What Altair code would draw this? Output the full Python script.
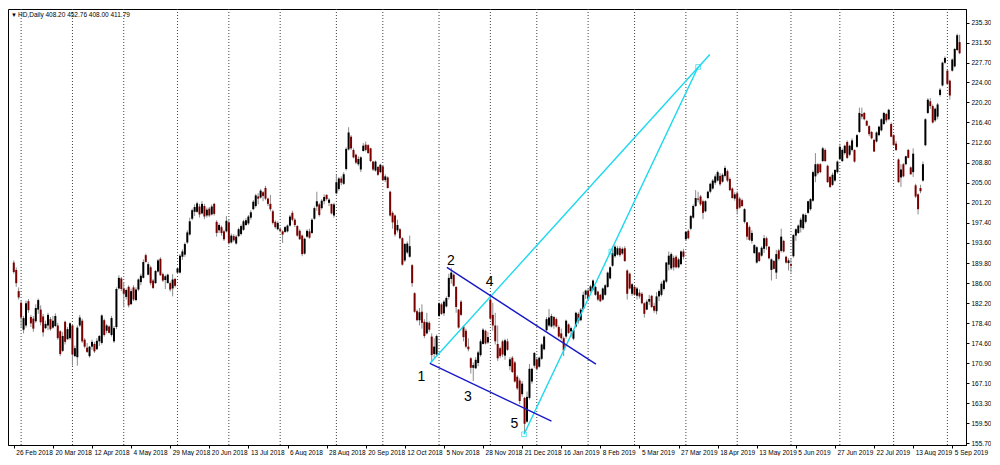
import altair as alt
import pandas as pd

# ---- daily candles, bar index 0 = 26 Feb 2018 ----
OPEN = [
    189.9, 188.5, 184.5, 182.3, 177.2, 178.0, 182.6, 179.6, 179.3, 178.8,
    181.0, 181.0, 179.7, 177.5, 178.0, 179.2, 177.6, 177.9, 178.0, 176.9,
    173.2, 178.7, 175.4, 175.6, 178.0, 172.2, 172.0, 178.0, 178.9, 175.3,
    173.8, 172.2, 174.0, 174.5, 173.5, 175.0, 174.7, 179.0, 177.0, 177.8,
    176.2, 175.0, 177.7, 185.0, 186.9, 185.0, 183.4, 185.3, 182.0, 185.2,
    182.8, 184.8, 186.2, 187.0, 191.3, 187.6, 189.0, 186.5, 186.0, 188.2,
    190.6, 187.7, 186.6, 186.0, 186.0, 185.0, 186.8,
    188.0, 188.0, 191.0, 191.4, 193.7, 195.2, 198.2, 199.5, 199.5, 200.5,
    199.2, 200.6, 198.8, 200.1, 199.0, 201.0, 197.6, 196.0, 196.6, 195.8,
    195.8, 197.5, 193.7, 194.9, 193.5, 194.9, 195.3, 196.1, 197.0, 197.3,
    198.4, 200.0, 200.6, 202.4, 202.2, 203.2, 204.0, 202.0, 201.0, 199.6,
    197.6, 196.2, 196.2, 195.8, 195.7, 195.8, 196.9, 199.3, 198.0, 196.8,
    195.9, 195.0, 191.6, 194.8, 195.8, 195.5, 198.2, 200.5, 200.9, 200.2,
    201.5, 202.7, 201.2, 201.0, 198.8,
    203.0, 203.8, 205.8, 204.8, 207.6, 211.3, 213.7, 211.2, 210.3, 208.5,
    207.5, 211.0, 212.2, 212.1, 211.5, 209.0, 207.3, 208.0, 207.0, 208.1,
    205.5, 206.0, 203.3, 199.3, 198.8, 196.0, 196.2, 194.5, 190.3, 191.8,
    191.0, 189.4, 184.1, 180.7, 179.0, 180.6, 178.7, 176.5, 178.5, 175.9,
    172.6, 172.5, 179.8, 182.0, 180.3, 181.6, 183.4, 186.8, 187.6, 185.3,
    181.0, 182.5, 177.8, 177.0, 174.0, 171.8, 170.0, 169.9, 170.9, 172.4,
    174.5, 177.0, 174.8, 182.9, 180.0, 178.0, 174.5,
    173.7, 175.0, 172.3, 175.0, 170.3, 171.9, 171.0, 168.3, 167.6, 165.0,
    164.3, 159.8, 164.3, 167.4, 170.4, 171.6, 170.2, 171.7, 173.5, 177.1,
    178.0, 177.8, 179.6, 179.2, 177.7, 176.5, 175.6, 175.9, 178.2, 176.9,
    175.5, 177.8, 180.2, 179.0, 181.1, 183.8, 184.6, 184.5, 184.8, 183.8,
    184.4, 183.8, 182.9, 183.8, 185.3, 186.9, 189.3, 191.1, 191.4, 192.6,
    191.6, 192.6, 188.4, 187.8, 184.0, 185.3, 183.6, 184.2, 184.0, 182.2,
    181.0, 182.5, 183.6, 181.7, 180.7,
    183.5, 183.8, 184.9, 186.3, 189.5, 188.8, 190.8, 191.0, 189.0, 189.6,
    192.0, 194.3, 195.9, 196.3, 198.4, 200.6, 202.0, 202.4, 201.5, 199.6,
    202.1, 203.3, 203.9, 205.0, 205.4, 206.3, 205.2, 206.3, 207.2, 205.7,
    203.9, 202.0, 203.0, 202.0, 201.7, 197.6, 197.5, 196.6, 194.0, 191.7,
    189.9, 191.8, 191.2, 192.5, 194.5, 192.9, 188.5, 190.2, 188.0, 192.2,
    192.1, 194.0, 191.0, 189.8, 189.6, 191.1, 195.0, 195.5, 196.5, 196.4,
    197.6, 199.3, 200.0, 201.6, 206.2,
    208.5, 208.5, 209.1, 211.2, 208.2, 206.1, 204.6, 205.4, 207.0, 209.5,
    209.1, 210.6, 212.7, 210.3, 211.2, 211.2, 211.8, 214.6, 218.0, 218.2,
    216.7, 215.7, 214.6, 213.1, 212.8, 214.0, 214.9, 216.1, 218.0, 217.0,
    216.1, 214.0, 212.4, 209.4, 206.0, 208.5, 208.5, 211.2, 207.9, 207.0,
    204.5, 202.8, 204.0, 205.4, 212.1, 218.2, 220.4, 219.5, 216.8, 217.5,
    221.6, 223.4, 227.7, 226.2, 224.3, 226.2, 227.0, 230.1, 231.6,
]
HIGH = [
    190.3, 189.0, 185.2, 182.6, 179.8, 182.7, 183.0, 180.0, 179.8, 182.0,
    183.1, 181.8, 180.2, 178.9, 180.4, 179.6, 179.8, 180.3, 178.5, 177.1,
    176.8, 178.9, 177.7, 178.6, 178.2, 174.2, 178.0, 180.0, 179.3, 175.6,
    174.7, 174.1, 175.3, 174.9, 175.6, 176.2, 180.1, 179.3, 178.3, 178.0,
    179.8, 177.9, 185.2, 187.5, 187.2, 186.2, 185.0, 185.6, 185.0, 185.6,
    185.2, 186.9, 187.8, 190.5, 191.6, 190.0, 189.3, 186.8, 188.5, 190.6,
    190.9, 188.0, 187.6, 187.8, 186.3, 187.7, 187.0,
    189.0, 191.5, 192.4, 193.7, 196.0, 198.4, 200.1, 200.9, 201.4, 201.0,
    201.5, 201.0, 200.3, 200.4, 200.9, 201.2, 197.9, 197.3, 196.9, 196.1,
    198.7, 198.1, 195.4, 195.3, 195.1, 196.5, 197.1, 198.0, 198.3, 198.9,
    199.8, 201.7, 202.9, 203.0, 203.8, 203.4, 204.4, 202.2, 202.7, 199.9,
    197.9, 197.7, 196.6, 196.0, 196.8, 197.1, 198.9, 199.7, 198.3, 197.0,
    196.2, 195.2, 194.6, 196.2, 196.3, 198.3, 200.5, 203.3, 201.2, 201.9,
    202.8, 202.8, 202.1, 201.0, 201.2,
    206.5, 206.1, 206.2, 207.0, 211.7, 215.5, 214.0, 211.5, 210.5, 210.0,
    210.0, 212.5, 212.8, 212.3, 211.6, 209.1, 209.2, 208.1, 208.6, 208.4,
    206.6, 206.2, 203.5, 199.6, 199.0, 198.0, 196.4, 194.7, 193.6, 193.9,
    195.0, 189.6, 184.3, 181.0, 181.3, 182.0, 179.2, 180.4, 178.8, 176.5,
    175.6, 176.3, 182.4, 182.3, 182.8, 183.5, 187.8, 188.9, 187.8, 185.4,
    181.1, 182.8, 178.0, 177.4, 175.6, 172.0, 171.0, 172.0, 173.2, 175.4,
    177.5, 177.2, 176.8, 183.7, 182.3, 180.4, 178.0,
    174.0, 175.3, 175.5, 175.5, 172.0, 172.2, 171.3, 168.6, 168.0, 167.5,
    164.5, 165.5, 170.7, 170.0, 173.0, 172.0, 172.1, 174.6, 176.1, 179.6,
    181.1, 180.2, 179.8, 179.5, 178.0, 177.4, 175.9, 179.1, 178.4, 177.8,
    177.3, 180.6, 180.5, 181.3, 184.4, 184.8, 184.9, 185.7, 186.7, 185.5,
    184.6, 184.0, 185.2, 185.8, 188.2, 189.2, 193.0, 193.2, 193.0, 193.0,
    192.8, 193.0, 188.6, 188.0, 186.0, 185.5, 185.3, 184.8, 184.3, 182.4,
    182.9, 183.8, 183.8, 182.3, 184.3,
    184.8, 186.3, 186.7, 190.0, 192.0, 191.8, 191.2, 191.3, 190.8, 192.2,
    192.5, 195.9, 196.2, 198.9, 200.9, 203.6, 203.3, 202.7, 201.8, 201.7,
    203.5, 205.0, 205.7, 206.6, 207.3, 206.8, 206.8, 208.2, 207.5, 206.0,
    204.1, 203.2, 203.4, 202.3, 202.0, 200.2, 197.6, 196.9, 196.0, 193.4,
    193.0, 191.9, 193.0, 195.1, 194.8, 193.0, 190.7, 190.4, 192.3, 192.5,
    196.3, 194.2, 191.2, 190.7, 190.6, 195.3, 196.4, 197.1, 198.4, 199.2,
    199.2, 201.6, 202.1, 207.3, 210.6,
    208.7, 208.7, 211.8, 211.5, 208.4, 206.3, 206.9, 207.6, 209.2, 212.4,
    211.5, 212.2, 213.0, 212.2, 213.4, 211.3, 214.2, 219.2, 219.2, 218.4,
    216.9, 215.9, 214.8, 213.3, 214.7, 215.8, 217.2, 218.4, 218.2, 219.0,
    216.4, 214.2, 212.9, 209.6, 208.5, 208.7, 210.1, 211.4, 208.1, 211.5,
    204.8, 203.0, 204.6, 209.0, 217.2, 221.0, 221.0, 219.8, 219.2, 220.1,
    222.9, 227.9, 228.9, 226.4, 224.5, 228.5, 230.5, 233.2, 233.0,
]
LOW = [
    187.8, 185.3, 182.9, 177.7, 176.5, 177.6, 180.4, 177.7, 176.8, 178.5,
    180.2, 178.0, 175.9, 177.3, 177.1, 177.0, 177.4, 177.7, 175.3, 172.2,
    173.0, 174.4, 175.3, 175.3, 170.4, 172.0, 170.4, 177.7, 174.7, 173.7,
    172.8, 171.9, 173.4, 172.8, 173.4, 174.1, 174.4, 175.9, 176.5, 176.5,
    175.9, 174.7, 177.3, 184.8, 184.5, 181.4, 182.9, 181.4, 182.0, 182.6,
    182.6, 184.5, 185.6, 186.9, 189.9, 187.5, 185.6, 184.9, 185.9, 188.0,
    187.4, 186.2, 184.9, 186.0, 184.4, 183.5, 185.2,
    187.8, 187.8, 190.4, 191.0, 193.4, 195.0, 197.9, 198.7, 199.3, 198.4,
    199.0, 198.1, 198.4, 198.5, 198.8, 198.8, 194.8, 195.5, 195.0, 194.0,
    195.6, 193.3, 193.5, 193.8, 193.3, 194.7, 195.0, 195.9, 196.8, 197.0,
    198.0, 199.8, 200.3, 200.9, 202.0, 201.5, 201.7, 200.6, 199.6, 197.1,
    196.3, 196.0, 195.6, 193.6, 195.5, 195.6, 196.7, 197.7, 196.6, 194.8,
    194.2, 191.1, 191.4, 194.6, 194.4, 195.3, 198.0, 199.7, 198.6, 199.9,
    200.9, 201.6, 200.6, 199.0, 198.4,
    202.8, 203.5, 204.5, 204.6, 207.3, 211.1, 211.2, 209.6, 208.5, 208.2,
    207.0, 210.9, 210.9, 210.5, 208.9, 207.2, 207.1, 206.3, 206.8, 205.3,
    205.1, 203.9, 198.6, 196.3, 194.8, 195.6, 194.3, 189.3, 190.0, 191.5,
    190.8, 185.3, 180.4, 178.8, 178.0, 177.4, 175.6, 176.3, 176.8, 171.2,
    171.9, 172.3, 179.6, 180.0, 179.8, 181.4, 182.9, 185.9, 185.3, 180.4,
    177.4, 179.8, 175.0, 173.7, 173.1, 168.9, 167.5, 169.8, 170.3, 172.1,
    174.4, 174.4, 174.5, 179.0, 177.0, 174.4, 171.3,
    171.8, 172.0, 171.5, 173.2, 169.5, 169.0, 167.2, 165.8, 163.1, 164.5,
    157.6, 159.6, 164.0, 167.0, 170.0, 169.5, 170.0, 171.5, 173.3, 176.9,
    177.7, 177.6, 177.4, 177.6, 175.7, 175.3, 172.2, 175.5, 176.4, 175.8,
    175.2, 177.6, 178.3, 178.8, 180.9, 183.0, 182.8, 184.2, 184.6, 183.6,
    182.6, 182.4, 182.7, 183.6, 185.1, 186.7, 189.1, 190.8, 191.2, 191.0,
    191.3, 190.0, 182.9, 184.8, 183.6, 183.6, 182.9, 183.1, 182.0, 179.5,
    180.9, 181.9, 181.3, 180.4, 180.1,
    182.6, 183.5, 184.6, 186.0, 188.4, 188.5, 188.4, 188.8, 188.8, 189.4,
    190.5, 194.0, 194.3, 196.0, 198.2, 200.4, 201.3, 200.6, 198.1, 199.4,
    201.9, 203.0, 203.7, 204.6, 205.2, 204.4, 205.0, 206.0, 205.1, 203.4,
    202.0, 201.6, 199.0, 200.1, 200.4, 197.3, 194.2, 194.0, 193.5, 191.5,
    189.7, 190.0, 191.0, 191.7, 192.3, 190.5, 186.5, 188.6, 186.8, 190.3,
    191.8, 191.8, 189.7, 188.4, 188.0, 190.8, 194.0, 195.3, 195.6, 196.1,
    197.3, 199.1, 199.7, 201.4, 205.1,
    206.5, 206.8, 208.9, 208.9, 205.0, 204.0, 204.4, 205.2, 206.7, 209.3,
    208.9, 210.3, 209.5, 210.0, 210.9, 208.8, 211.6, 214.4, 217.0, 216.8,
    215.7, 213.8, 213.2, 210.8, 212.6, 213.8, 214.7, 215.9, 216.4, 216.8,
    213.6, 212.0, 211.0, 205.0, 204.2, 206.0, 208.3, 209.6, 206.5, 206.1,
    202.1, 199.0, 203.0, 205.2, 211.9, 218.0, 219.0, 216.2, 216.5, 217.0,
    221.3, 223.2, 227.5, 223.5, 220.7, 226.0, 226.8, 229.9, 229.3,
]
CLOSE = [
    188.1, 186.0, 183.3, 179.5, 179.4, 182.2, 180.9, 178.4, 177.4, 181.3,
    182.8, 178.6, 176.7, 178.3, 180.0, 177.3, 178.9, 179.8, 175.6, 172.6,
    176.0, 174.9, 177.3, 178.4, 172.5, 173.7, 177.6, 179.5, 175.0, 174.0,
    173.0, 174.0, 174.9, 173.1, 175.1, 176.0, 179.9, 176.2, 178.0, 176.6,
    179.4, 177.5, 184.9, 187.0, 184.9, 184.0, 184.7, 181.8, 184.5, 182.9,
    184.8, 186.7, 187.4, 190.0, 190.0, 189.6, 186.0, 185.1, 188.3, 190.3,
    187.5, 186.5, 187.3, 187.6, 184.8, 186.7, 185.5,
    188.8, 191.2, 192.0, 193.4, 195.6, 197.7, 199.8, 200.4, 201.1, 199.0,
    201.0, 198.6, 199.9, 198.8, 200.5, 199.1, 195.5, 197.0, 195.5, 194.3,
    197.8, 193.6, 195.0, 194.1, 194.8, 196.2, 196.8, 197.7, 197.9, 198.6,
    199.4, 201.4, 202.6, 202.0, 203.5, 202.5, 202.0, 201.0, 200.0, 197.4,
    196.6, 197.4, 195.9, 195.2, 196.6, 196.9, 198.6, 198.0, 197.0, 195.0,
    194.3, 191.5, 194.4, 195.9, 194.6, 198.0, 200.2, 201.5, 198.9, 201.6,
    202.3, 201.9, 201.8, 199.2, 200.9,
    205.1, 205.8, 205.0, 206.6, 211.4, 214.5, 211.5, 209.8, 208.8, 209.5,
    209.8, 212.0, 211.2, 210.6, 209.1, 207.5, 209.0, 206.5, 208.4, 205.5,
    206.2, 204.0, 198.8, 197.5, 195.2, 197.0, 194.5, 189.5, 193.4, 193.5,
    193.0, 186.0, 180.6, 179.0, 180.5, 178.5, 176.0, 178.6, 177.2, 172.4,
    174.0, 176.0, 182.2, 180.2, 182.5, 183.2, 187.0, 188.0, 185.5, 181.5,
    177.6, 180.0, 175.8, 174.0, 173.5, 170.0, 170.5, 171.5, 172.9, 175.0,
    177.2, 174.6, 175.8, 179.3, 178.0, 175.0, 171.8,
    172.2, 172.5, 175.2, 173.4, 171.6, 169.2, 167.4, 166.1, 163.7, 167.0,
    159.4, 164.5, 169.8, 169.8, 172.8, 169.8, 171.9, 174.4, 175.9, 179.2,
    179.5, 179.8, 178.0, 177.8, 175.9, 175.6, 173.3, 178.9, 176.6, 177.5,
    177.1, 180.4, 178.8, 181.0, 183.8, 184.6, 183.0, 185.4, 186.5, 185.3,
    182.9, 182.6, 185.0, 185.6, 188.0, 189.0, 191.7, 192.9, 192.6, 191.3,
    192.5, 190.2, 184.0, 185.0, 185.8, 183.8, 185.0, 183.5, 182.2, 180.2,
    182.5, 183.0, 181.5, 180.8, 183.5,
    184.5, 185.9, 186.5, 189.9, 191.2, 191.5, 189.0, 189.0, 190.5, 192.0,
    191.0, 195.7, 194.5, 198.7, 200.6, 202.1, 201.8, 200.9, 199.3, 201.5,
    203.3, 204.8, 205.4, 206.2, 207.0, 204.7, 206.5, 207.8, 205.4, 203.6,
    202.1, 202.8, 200.0, 200.3, 200.6, 200.0, 194.8, 194.2, 195.5, 193.2,
    192.8, 190.2, 192.7, 194.5, 193.0, 190.7, 190.5, 188.7, 191.5, 190.6,
    194.8, 192.0, 189.9, 190.3, 189.3, 195.1, 196.2, 196.9, 198.0, 199.0,
    198.9, 201.5, 201.9, 207.0, 208.5,
    206.8, 207.0, 211.5, 209.1, 205.1, 204.2, 206.5, 207.4, 209.0, 211.8,
    211.2, 212.0, 209.7, 212.0, 213.0, 209.0, 214.0, 218.2, 217.5, 217.0,
    215.8, 214.2, 213.4, 210.9, 214.5, 215.6, 217.0, 218.2, 216.8, 218.8,
    213.7, 212.1, 211.2, 205.1, 207.5, 206.2, 210.0, 209.7, 206.6, 210.5,
    202.4, 200.0, 203.4, 208.5, 217.0, 220.7, 219.5, 216.4, 219.0, 219.8,
    222.6, 227.7, 228.6, 223.7, 221.5, 228.3, 230.3, 232.9, 229.5,
]

# ---- axes ----
X_LABELS = ["26 Feb 2018", "20 Mar 2018", "12 Apr 2018", "4 May 2018", "29 May 2018",
            "20 Jun 2018", "13 Jul 2018", "6 Aug 2018", "28 Aug 2018", "20 Sep 2018",
            "12 Oct 2018", "5 Nov 2018", "28 Nov 2018", "21 Dec 2018", "16 Jan 2019",
            "8 Feb 2019", "5 Mar 2019", "27 Mar 2019", "18 Apr 2019", "13 May 2019",
            "5 Jun 2019", "27 Jun 2019", "22 Jul 2019", "13 Aug 2019", "5 Sep 2019"]
LABEL_STEP = 16  # a date label every 16 bars
MONTH_STARTS = [3, 24, 45, 67, 88, 109, 132, 151, 174, 195, 214, 235, 254, 275,
                296, 318, 338, 360, 382]
Y_TICKS = [235.3, 231.5, 227.7, 224.0, 220.2, 216.4, 212.6, 208.8, 205.0, 201.2,
           197.4, 193.6, 189.8, 186.0, 182.2, 178.4, 174.6, 170.9, 167.1, 163.3,
           159.5, 155.7]
TITLE = "HD,Daily  408.20 452.76 408.00 411.79"

# ---- Wolfe-wave drawing (bar index, price) ----
CYAN_X1 = [170.25, 208.76]
CYAN_Y1 = [170.81, 157.41]
CYAN_X2 = [284.8, 280.0]
CYAN_Y2 = [229.27, 226.89]
BLUE_X1 = [177.2, 170.25]
BLUE_Y1 = [188.98, 170.81]
BLUE_X2 = [238.2, 220.0]
BLUE_Y2 = [170.70, 159.91]
MARK_X = [208.76, 244.5, 280.0]
MARK_Y = [157.41, 191.97, 226.89]
WAVE_TXT = ["1", "2", "3", "4", "5"]
WAVE_X = [166.8, 178.8, 185.8, 194.7, 204.8]
WAVE_Y = [168.25, 190.19, 164.41, 186.24, 159.42]

n = min(len(OPEN), len(HIGH), len(LOW), len(CLOSE))
bars = pd.DataFrame({"i": list(range(n)), "o": OPEN[:n], "h": HIGH[:n],
                     "l": LOW[:n], "c": CLOSE[:n]})
bars["up"] = bars["c"] >= bars["o"]

W, H = 958, 436
xs = alt.Scale(domain=[-0.32, 387.57], nice=False, zero=False)
ys = alt.Scale(domain=[155.39, 237.86], nice=False, zero=False)

label_arr = "[" + ",".join("'" + s + "'" for s in X_LABELS) + "]"
xaxis = alt.Axis(values=[k * LABEL_STEP for k in range(len(X_LABELS))],
                 labelExpr=label_arr + "[round(datum.value/" + str(LABEL_STEP) + ")]",
                 labelAlign="left", labelBaseline="top", labelOffset=2,
                 labelPadding=1, tickSize=3, labelOverlap=False, labelFlush=False,
                 labelBound=False, title=None, grid=False)
yaxis = alt.Axis(orient="right", values=Y_TICKS, labelExpr="format(datum.value, '.2f')",
                 tickSize=3, labelPadding=2, labelOverlap=False, labelBound=False,
                 labelFlush=False, title=None, grid=False)

X = lambda f: alt.X(f, scale=xs, axis=xaxis)
Y = lambda f: alt.Y(f, scale=ys, axis=yaxis)

grid = alt.Chart(pd.DataFrame({"m": MONTH_STARTS})).mark_rule(
    color="#404040", strokeDash=[1, 2], strokeWidth=1
).encode(x=X("m:Q"))

base = alt.Chart(bars)
wicks = base.mark_rule(color="#8c8c8c", strokeWidth=1).encode(
    x=X("i:Q"), y=Y("l:Q"), y2="h:Q")
bodies = base.mark_bar(size=2).encode(
    x=X("i:Q"), y=Y("o:Q"), y2="c:Q",
    color=alt.condition(alt.datum.up, alt.value("#000000"), alt.value("#7a0000")))

cyan = alt.Chart(pd.DataFrame({"x1": CYAN_X1, "y1": CYAN_Y1, "x2": CYAN_X2, "y2": CYAN_Y2})
                 ).mark_rule(color="#1ad8ee", strokeWidth=1.4).encode(
    x=X("x1:Q"), y=Y("y1:Q"), x2="x2:Q", y2="y2:Q")
blue = alt.Chart(pd.DataFrame({"x1": BLUE_X1, "y1": BLUE_Y1, "x2": BLUE_X2, "y2": BLUE_Y2})
                 ).mark_rule(color="#1818c8", strokeWidth=1.4).encode(
    x=X("x1:Q"), y=Y("y1:Q"), x2="x2:Q", y2="y2:Q")
marks = alt.Chart(pd.DataFrame({"x": MARK_X, "y": MARK_Y})).mark_square(
    filled=False, size=22, color="#1ad8ee", strokeWidth=1).encode(x=X("x:Q"), y=Y("y:Q"))
waves = alt.Chart(pd.DataFrame({"x": WAVE_X, "y": WAVE_Y, "t": WAVE_TXT})).mark_text(
    font="Liberation Sans", fontSize=14, color="#000000", align="center",
    baseline="middle").encode(x=X("x:Q"), y=Y("y:Q"), text="t:N")

tri = alt.Chart(pd.DataFrame({"t": ["▼"]})).mark_text(
    fontSize=6, color="#000000", align="left", baseline="middle").encode(
    x=alt.value(3), y=alt.value(6), text="t:N")
title = alt.Chart(pd.DataFrame({"t": [TITLE]})).mark_text(
    font="Liberation Sans", fontSize=6.5, color="#000000", align="left",
    baseline="middle").encode(x=alt.value(10), y=alt.value(6), text="t:N")

chart = alt.layer(grid, wicks, bodies, cyan, blue, marks, waves, tri, title).properties(
    width=W, height=H,
    padding=0,
    background="white",
).configure_view(stroke="#000000", strokeWidth=1).configure_axis(
    labelFont="Liberation Sans", labelFontSize=6.5, labelColor="#000000",
    tickColor="#000000", domainColor="#000000", domainWidth=1, tickWidth=1)

chart.save("out.html", embed_options={"renderer": "svg", "actions": False})
